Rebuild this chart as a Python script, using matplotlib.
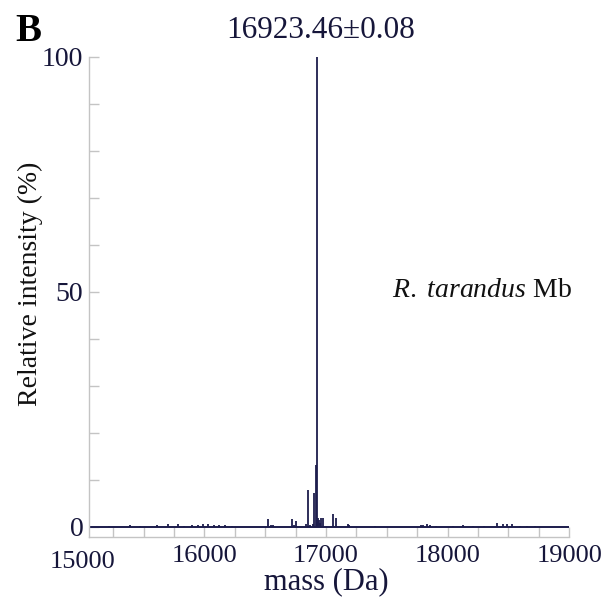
import matplotlib
matplotlib.use("Agg")
import matplotlib.pyplot as plt
from matplotlib.ticker import MultipleLocator, FixedLocator

plt.rcParams['font.family'] = ['Liberation Serif', 'DejaVu Serif']
plt.rcParams['mathtext.fontset'] = 'custom'
plt.rcParams['mathtext.rm'] = 'Liberation Serif'
plt.rcParams['mathtext.it'] = 'Liberation Serif:italic'

# Deconvoluted mass spectrum peaks (Da, relative intensity %)
peak_mass = [15218, 15388, 15470, 15608, 15704, 15786, 15830, 15900, 15950,
             15990, 16030, 16080, 16120, 16170, 16230, 16521, 16545, 16567,
             16723, 16737, 16753, 16836, 16854, 16870, 16890, 16904, 16915,
             16923.46, 16928, 16932, 16942, 16948, 16959, 16978, 17060, 17082,
             17177, 17190, 17400, 17780, 17800, 17830, 17855, 17900, 18047,
             18129, 18211, 18300, 18404, 18458, 18491, 18527, 18595, 18650,
             18719]
peak_intensity = [0.3, 0.35, 0.2, 0.5, 0.55, 0.55, 0.3, 0.4, 0.5,
                  0.6, 0.55, 0.45, 0.5, 0.4, 0.3, 1.6, 0.4, 0.4,
                  1.6, 0.5, 1.3, 0.6, 7.8, 0.5, 0.6, 7.3, 13.1,
                  100.0, 1.0, 2.0, 1.4, 0.8, 2.0, 1.8, 2.7, 1.9,
                  0.6, 0.4, 0.2, 0.4, 0.5, 0.6, 0.5, 0.3, 0.3,
                  0.35, 0.3, 0.3, 0.8, 0.6, 0.6, 0.55, 0.3, 0.3,
                  0.3]
trace_start, trace_end = 15053, 19000

x_major = [15000, 16000, 17000, 18000, 19000]
y_major = [0, 50, 100]
main_mass_label = "16923.46\u00b10.08"
species_label = r"$\it{R.\ tarandus}$ Mb"

navy = '#1c1c4c'
grey = '#c4c4c4'
text_navy = '#16163a'

fig = plt.figure(figsize=(6.03, 6.03), dpi=100)
ax = fig.add_axes([0.1373, 0.1090, 0.8068, 0.7973])

ax.hlines(0, trace_start, trace_end, color=navy, linewidth=1.4)
ax.vlines(peak_mass, 0, peak_intensity, color=navy, linewidth=1.3)

ax.set_xlim(15000, 19000)
ax.set_ylim(-2.2, 100)

for side in ('top', 'right'):
    ax.spines[side].set_visible(False)
ax.spines['left'].set_position(('data', trace_start))
ax.spines['bottom'].set_bounds(trace_start, trace_end)
for side in ('left', 'bottom'):
    ax.spines[side].set_color(grey)
    ax.spines[side].set_linewidth(1.0)

ax.xaxis.set_major_locator(FixedLocator(x_major))
ax.xaxis.set_minor_locator(MultipleLocator(250))
ax.yaxis.set_major_locator(FixedLocator(y_major))
ax.yaxis.set_minor_locator(MultipleLocator(10))

ax.tick_params(axis='both', which='both', direction='in', length=7,
               width=1.0, color=grey)
ax.tick_params(axis='x', which='major', labelsize=19, pad=5.5,
               labelcolor=text_navy)
ax.tick_params(axis='y', which='major', labelsize=20, pad=4.3,
               labelcolor=text_navy)

# first x tick sits left of the y spine: hide its mark, drop its label a bit
first = ax.xaxis.get_major_ticks()[0]
first.tick1line.set_visible(False)
first.set_pad(10.0)

ax.set_xlabel("mass (Da)", fontsize=22, color=text_navy, labelpad=-4)
ax.set_ylabel("Relative intensity (%)", fontsize=20, color='#111111')
ax.yaxis.set_label_coords(-0.082, 0.527)

fig.text(0.531, 1 - 38.3 / 603, main_mass_label, fontsize=22.5,
         color=text_navy, ha='center', va='baseline')
fig.text(15 / 603, 1 - 41 / 603, "B", fontsize=28, fontweight='bold',
         color='black', ha='left', va='baseline')

ax.text(0.635, 0.500, species_label, transform=ax.transAxes, fontsize=20,
        color='#111111', ha='left', va='baseline')

fig.savefig("out.png", dpi=100)
